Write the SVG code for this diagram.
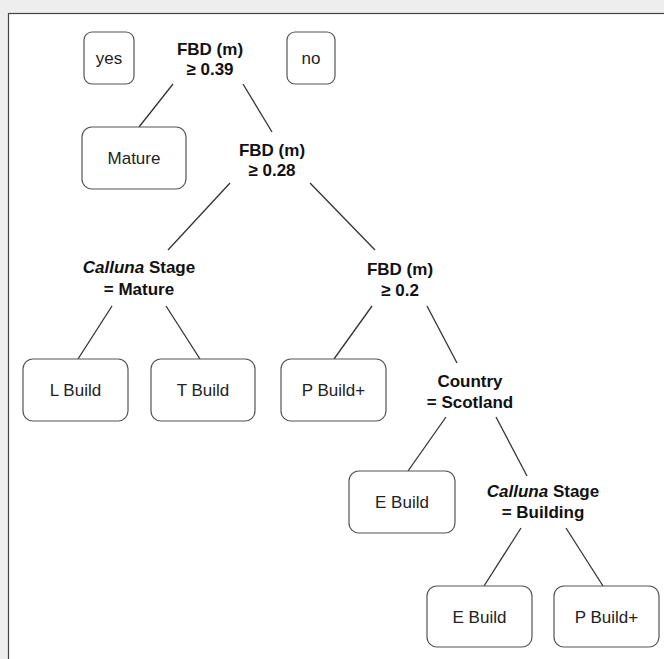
<svg xmlns="http://www.w3.org/2000/svg" width="664" height="659" viewBox="0 0 664 659">
<style>
.leaf{fill:#fff;stroke:#555;stroke-width:1.2}
.lt{font-family:"Liberation Sans",Arial,sans-serif;font-size:17px;fill:#222;text-anchor:middle}
.st{font-family:"Liberation Sans",Arial,sans-serif;font-size:17px;font-weight:bold;fill:#111;text-anchor:middle}
#connectors line{stroke:#333;stroke-width:1.3}
</style>
<rect x="0" y="0" width="664" height="659" fill="#eeeeee"/>
<rect x="8.5" y="13.5" width="660" height="650" fill="#fff" stroke="#444" stroke-width="1.2"/>
<g id="connectors">
<line x1="173" y1="84" x2="139" y2="127"/>
<line x1="243" y1="84" x2="272" y2="132"/>
<line x1="230" y1="183" x2="168" y2="250"/>
<line x1="310" y1="183" x2="375" y2="250"/>
<line x1="112" y1="306" x2="78" y2="359"/>
<line x1="166" y1="306" x2="200" y2="359"/>
<line x1="372" y1="306" x2="334" y2="359"/>
<line x1="427" y1="306" x2="457" y2="363"/>
<line x1="446" y1="417" x2="408" y2="471"/>
<line x1="496" y1="417" x2="527" y2="476"/>
<line x1="521" y1="528" x2="484" y2="586"/>
<line x1="566" y1="528" x2="603" y2="586"/>
</g>
<g id="yes"><rect class="leaf" x="84" y="32" width="50" height="52" rx="8"/><text class="lt" x="109" y="64">yes</text></g>
<g id="no"><rect class="leaf" x="287" y="32" width="48" height="52" rx="8"/><text class="lt" x="311" y="64">no</text></g>
<g id="split1"><text class="st" x="210" y="55">FBD (m)</text><text class="st" x="210" y="75">≥ 0.39</text></g>
<g id="mature"><rect class="leaf" x="82" y="127" width="104" height="62" rx="10"/><text class="lt" x="134" y="164">Mature</text></g>
<g id="split2"><text class="st" x="272" y="156">FBD (m)</text><text class="st" x="272" y="176">≥ 0.28</text></g>
<g id="split3"><text class="st" x="139" y="273"><tspan font-style="italic">Calluna</tspan> Stage</text><text class="st" x="139" y="295">= Mature</text></g>
<g id="split4"><text class="st" x="400" y="275">FBD (m)</text><text class="st" x="400" y="296">≥ 0.2</text></g>
<g id="lbuild"><rect class="leaf" x="23" y="359" width="105" height="62" rx="10"/><text class="lt" x="75.5" y="396">L Build</text></g>
<g id="tbuild"><rect class="leaf" x="151" y="359" width="104" height="62" rx="10"/><text class="lt" x="203" y="396">T Build</text></g>
<g id="pbuild1"><rect class="leaf" x="281" y="359" width="105" height="62" rx="10"/><text class="lt" x="333.5" y="396">P Build+</text></g>
<g id="split5"><text class="st" x="470" y="387">Country</text><text class="st" x="470" y="408">= Scotland</text></g>
<g id="ebuild1"><rect class="leaf" x="349" y="471" width="106" height="62" rx="10"/><text class="lt" x="402" y="508">E Build</text></g>
<g id="split6"><text class="st" x="543" y="497"><tspan font-style="italic">Calluna</tspan> Stage</text><text class="st" x="543" y="518">= Building</text></g>
<g id="ebuild2"><rect class="leaf" x="427" y="586" width="105" height="61" rx="10"/><text class="lt" x="479.5" y="623">E Build</text></g>
<g id="pbuild2"><rect class="leaf" x="554" y="586" width="105" height="61" rx="10"/><text class="lt" x="606.5" y="623">P Build+</text></g>
</svg>
